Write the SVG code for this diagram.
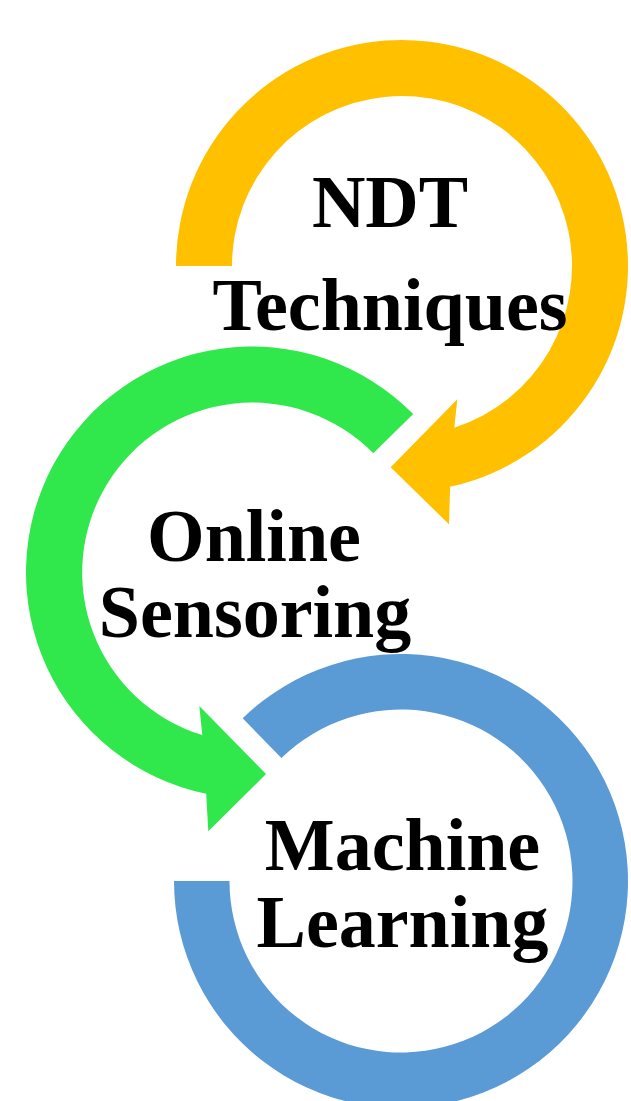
<svg xmlns="http://www.w3.org/2000/svg" width="631" height="1101" viewBox="0 0 631 1101">
<style>
.lbl{font-family:"Liberation Serif","Times New Roman",serif;font-weight:bold;font-size:74px;fill:#000;text-anchor:middle}
.orange{fill:#FFC000}
.green{fill:#31E84C}
.blue{fill:#5B9BD5}
</style>
<rect width="631" height="1101" fill="#fff"/>
<g id="node-ndt">
<path class="orange" d="M176,266 A226,226 0 1 1 450.1,486.8 L449,524.3 L390.7,467.3 L457.3,399.3 L454.3,427.8 A170,170 0 1 0 232,266 Z"/>
<text class="lbl" x="390" y="227">NDT</text>
<text class="lbl" x="390" y="330">Techniques</text>
</g>
<g id="node-online">
<path class="green" d="M413.2,414.1 A226,226 0 1 0 206.2,793.8 L208.3,831.3 L266,774 L199.3,706 L202.3,735.1 A170,170 0 1 1 373.3,453.3 Z"/>
<text class="lbl" x="254" y="561">Online</text>
<text class="lbl" x="255" y="637">Sensoring</text>
</g>
<g id="node-ml">
<path class="blue" d="M242.7,718.3 A227,227 0 1 1 174,881 L229.5,881 A171.5,171.5 0 1 0 281.4,758.1 Z"/>
<text class="lbl" x="402.5" y="870">Machine</text>
<text class="lbl" x="402.5" y="947">Learning</text>
</g>
<g id="connectors"></g>
</svg>
